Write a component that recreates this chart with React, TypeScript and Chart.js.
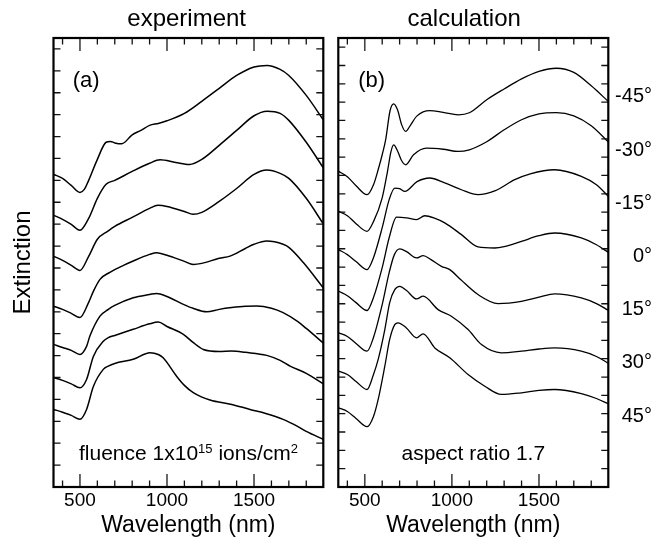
import { useEffect, useRef } from "react"
import { Chart, registerables } from "chart.js"

Chart.register(...registerables)

const FONT = "'Liberation Sans', Arial, Helvetica, sans-serif"

// axis ticks (wavelength in nm, extinction in arbitrary offset units)
const xMajorTicks = [500, 1000, 1500]
const xMinorTicks = [400, 600, 700, 800, 900, 1100, 1200, 1300, 1400, 1600, 1700, 1800]
const expYTicks = [0, 1, 2, 3, 4, 5, 6, 7, 8, 9, 10, 11, 12, 13, 14, 15, 16, 17, 18, 19]
const calcYTicks = [0, 1, 2, 3, 4, 5, 6, 7, 8, 9, 10, 11, 12, 13, 14, 15, 16, 17, 18, 19, 20, 21, 22, 23]
const angleLabels = ["-45°", "-30°", "-15°", "0°", "15°", "30°", "45°"]

// (a) experiment, [wavelength, extinction]
const expM45 = [[350, 13.27], [400, 13.09], [450, 12.77], [500, 12.45], [525, 12.59], [550, 13.0], [600, 13.96], [650, 14.74], [675, 14.78], [700, 14.71], [740, 14.67], [800, 15.08], [850, 15.28], [900, 15.51], [950, 15.6], [1000, 15.72], [1100, 16.06], [1200, 16.61], [1300, 17.2], [1400, 17.79], [1500, 18.18], [1575, 18.25], [1650, 18.07], [1700, 17.79], [1800, 16.88], [1900, 15.74]]
const expM30 = [[350, 11.4], [400, 11.22], [450, 10.99], [500, 10.72], [550, 11.26], [600, 12.18], [650, 12.82], [700, 13.0], [800, 13.41], [900, 13.78], [960, 13.94], [1050, 13.82], [1130, 13.73], [1200, 13.96], [1300, 14.6], [1400, 15.28], [1500, 15.95], [1575, 16.16], [1650, 16.06], [1700, 15.74], [1800, 14.74], [1900, 13.55]]
const expM15 = [[350, 9.53], [400, 9.35], [450, 9.12], [500, 8.89], [550, 9.53], [600, 10.31], [660, 10.68], [700, 10.9], [800, 11.31], [900, 11.72], [948, 11.86], [1000, 11.81], [1100, 11.58], [1150, 11.45], [1200, 11.54], [1300, 12.04], [1400, 12.63], [1500, 13.27], [1573, 13.47], [1650, 13.32], [1700, 13.09], [1800, 12.18], [1900, 10.99]]
const exp0 = [[350, 7.25], [400, 7.11], [450, 6.93], [500, 6.74], [550, 7.43], [577, 7.93], [615, 8.48], [672, 8.8], [750, 9.12], [806, 9.32], [900, 9.62], [940, 9.7], [1000, 9.58], [1100, 9.3], [1151, 9.16], [1200, 9.21], [1300, 9.44], [1362, 9.54], [1450, 9.89], [1500, 10.08], [1573, 10.23], [1667, 10.08], [1700, 9.94], [1782, 9.26], [1900, 8.07]]
const expP15 = [[350, 5.51], [400, 5.37], [450, 5.24], [500, 5.05], [538, 5.42], [557, 5.89], [615, 6.8], [663, 7.11], [700, 7.29], [806, 7.64], [900, 7.79], [940, 7.84], [1000, 7.7], [1094, 7.34], [1150, 7.16], [1228, 7.0], [1300, 7.11], [1372, 7.19], [1450, 7.25], [1515, 7.26], [1600, 7.16], [1667, 6.96], [1750, 6.56], [1800, 6.24], [1900, 5.56]]
const expP30 = [[350, 4.0], [400, 3.87], [450, 3.71], [500, 3.53], [538, 3.91], [577, 4.96], [634, 5.65], [663, 5.82], [700, 5.92], [806, 6.2], [900, 6.45], [950, 6.53], [1000, 6.33], [1094, 5.97], [1150, 5.6], [1209, 5.28], [1300, 5.19], [1372, 5.21], [1450, 5.15], [1573, 5.01], [1650, 4.78], [1707, 4.52], [1800, 4.19], [1900, 3.7]]
const expP45 = [[350, 2.54], [400, 2.41], [450, 2.27], [500, 2.09], [538, 2.54], [577, 3.59], [634, 4.37], [663, 4.52], [700, 4.64], [806, 4.83], [902, 5.13], [950, 5.05], [978, 4.9], [1055, 4.06], [1100, 3.64], [1151, 3.31], [1247, 2.97], [1372, 2.77], [1477, 2.54], [1567, 2.36], [1667, 2.09], [1750, 1.77], [1800, 1.54], [1900, 1.17]]

// (b) calculation, aspect ratio 1.7
const calcM45 = [[350, 16.22], [400, 15.93], [450, 15.44], [513, 14.95], [550, 15.49], [580, 16.42], [600, 17.13], [620, 17.95], [645, 19.53], [666, 19.91], [688, 19.58], [712, 18.76], [735, 18.4], [760, 18.71], [800, 19.25], [873, 19.54], [950, 19.44], [1036, 19.31], [1100, 19.42], [1200, 20.13], [1300, 20.72], [1400, 21.27], [1500, 21.68], [1600, 21.85], [1700, 21.62], [1800, 20.89], [1900, 20.02]]
const calcM30 = [[350, 14.04], [400, 13.8], [450, 13.37], [513, 12.95], [550, 13.48], [600, 14.78], [630, 16.2], [650, 17.29], [666, 17.67], [690, 17.29], [712, 16.8], [735, 16.58], [780, 17.13], [854, 17.49], [950, 17.43], [1036, 17.31], [1100, 17.4], [1200, 17.84], [1300, 18.49], [1400, 19.04], [1500, 19.36], [1600, 19.43], [1700, 19.25], [1800, 18.71], [1900, 17.81]]
const calcM15 = [[350, 11.95], [400, 11.68], [450, 11.3], [513, 10.86], [550, 11.51], [600, 13.15], [640, 14.68], [672, 15.31], [700, 15.28], [730, 15.13], [800, 15.66], [873, 15.86], [959, 15.59], [1055, 15.22], [1150, 14.95], [1250, 15.17], [1361, 15.77], [1450, 16.09], [1590, 16.31], [1743, 15.95], [1830, 15.49], [1900, 14.84]]
const calc0 = [[350, 9.68], [400, 9.44], [450, 9.06], [513, 8.63], [550, 9.34], [600, 10.97], [640, 12.6], [682, 13.73], [740, 13.69], [797, 13.59], [844, 13.8], [900, 13.67], [959, 13.41], [1055, 12.77], [1150, 12.1], [1246, 12.04], [1300, 12.11], [1399, 12.4], [1500, 12.71], [1590, 12.86], [1743, 12.59], [1830, 12.22], [1900, 11.79]]
const calcP15 = [[350, 7.41], [400, 7.21], [450, 6.83], [513, 6.41], [550, 7.16], [600, 8.95], [640, 10.7], [670, 11.68], [701, 11.99], [740, 11.84], [797, 11.5], [835, 11.62], [880, 11.41], [940, 11.04], [988, 10.86], [1050, 10.32], [1150, 9.5], [1265, 9.01], [1399, 9.13], [1500, 9.36], [1590, 9.54], [1743, 9.32], [1830, 9.01], [1900, 8.63]]
const calcP30 = [[350, 5.32], [400, 5.14], [450, 4.76], [513, 4.32], [550, 5.14], [577, 5.96], [615, 7.59], [643, 9.06], [672, 9.77], [701, 9.95], [740, 9.72], [797, 9.26], [835, 9.41], [921, 8.68], [997, 8.32], [1093, 7.59], [1170, 6.77], [1284, 6.32], [1399, 6.41], [1500, 6.53], [1590, 6.59], [1743, 6.41], [1830, 6.12], [1900, 5.74]]
const calcP45 = [[350, 3.32], [400, 3.12], [450, 2.74], [513, 2.29], [550, 2.85], [577, 3.78], [615, 5.59], [643, 7.05], [672, 7.86], [691, 7.96], [739, 7.68], [797, 7.14], [835, 7.36], [902, 6.59], [988, 6.05], [1093, 5.14], [1189, 4.5], [1284, 4.05], [1399, 4.14], [1500, 4.27], [1590, 4.32], [1743, 4.1], [1830, 3.83], [1900, 3.53]]

// box with inward ticks on all four sides
const framePlugin = {
  id: "frame",
  afterDraw(chart: any, _args: any, opts: any) {
    const { ctx, chartArea: a, scales } = chart
    const x = scales.x
    const y = scales.y
    ctx.save()
    ctx.strokeStyle = "#111"
    ctx.lineWidth = 1.3
    ctx.beginPath()
    for (const t of y.ticks) {
      const py = y.getPixelForValue(t.value)
      ctx.moveTo(a.left, py)
      ctx.lineTo(a.left + 7, py)
      ctx.moveTo(a.right, py)
      ctx.lineTo(a.right - 7, py)
    }
    for (const v of opts.minor || []) {
      const px = x.getPixelForValue(v)
      ctx.moveTo(px, a.top)
      ctx.lineTo(px, a.top + 6.5)
      ctx.moveTo(px, a.bottom)
      ctx.lineTo(px, a.bottom - 6.5)
    }
    ctx.stroke()
    ctx.lineWidth = 1.6
    ctx.strokeStyle = "#444"
    ctx.beginPath()
    for (const t of x.ticks) {
      const px = x.getPixelForValue(t.value)
      ctx.moveTo(px, a.top)
      ctx.lineTo(px, a.top + 13)
      ctx.moveTo(px, a.bottom)
      ctx.lineTo(px, a.bottom - 13)
    }
    ctx.stroke()
    ctx.lineWidth = 2.2
    ctx.strokeStyle = "#000"
    ctx.strokeRect(a.left, a.top, a.right - a.left, a.bottom - a.top)
    ctx.restore()
  },
}

interface PanelProps {
  series: number[][][]
  yTicks: number[]
  yMax: number
  yTitle?: string
  left: number
  width: number
  axisWidth: number
  padRight: number
  lineWidth: number
}

function Panel({ series, yTicks, yMax, yTitle, left, width, axisWidth, padRight, lineWidth }: PanelProps) {
  const canvasRef = useRef<HTMLCanvasElement>(null)

  useEffect(() => {
    if (!canvasRef.current) return
    const chart = new Chart(canvasRef.current, {
      type: "line",
      data: {
        datasets: series.map((d) => ({
          data: d as any,
          borderColor: "#000",
          borderWidth: lineWidth,
          pointRadius: 0,
          cubicInterpolationMode: "monotone" as const,
          fill: false,
        })),
      },
      options: {
        animation: false,
        responsive: false,
        events: [],
        layout: { padding: { left: 0, right: padRight, top: 38, bottom: 0 } },
        plugins: {
          legend: { display: false },
          tooltip: { enabled: false },
          // @ts-ignore custom plugin options
          frame: { minor: xMinorTicks },
        },
        scales: {
          x: {
            type: "linear",
            min: 348,
            max: 1898,
            grid: { display: false, drawTicks: false },
            border: { display: false },
            afterBuildTicks: (axis: any) => {
              axis.ticks = xMajorTicks.map((v) => ({ value: v }))
            },
            afterFit: (axis: any) => {
              axis.height = 59
            },
            ticks: {
              color: "#000",
              font: { family: FONT, size: 19 },
              padding: 2,
              maxRotation: 0,
              autoSkip: false,
              callback: (v: any) => String(v),
            },
            title: {
              display: true,
              text: "Wavelength (nm)",
              color: "#000",
              font: { family: FONT, size: 23 },
              padding: { top: 0, bottom: 7 },
            },
          },
          y: {
            type: "linear",
            min: -1,
            max: yMax,
            grid: { display: false, drawTicks: false },
            border: { display: false },
            afterBuildTicks: (axis: any) => {
              axis.ticks = yTicks.map((v) => ({ value: v }))
            },
            afterFit: (axis: any) => {
              axis.width = axisWidth
            },
            ticks: { display: false },
            title: {
              display: !!yTitle,
              text: yTitle || "",
              color: "#000",
              font: { family: FONT, size: 24 },
              padding: { top: 9, bottom: 0 },
            },
          },
        },
      },
      plugins: [framePlugin],
    })
    return () => chart.destroy()
  }, [])

  return <canvas ref={canvasRef} width={width} height={546} style={{ position: "absolute", left, top: 0 }} />
}

const text: React.CSSProperties = {
  position: "absolute",
  fontFamily: FONT,
  color: "#000",
  lineHeight: 1,
  whiteSpace: "nowrap",
}

const sup: React.CSSProperties = {
  fontSize: "0.62em",
  position: "relative",
  top: "-0.55em",
  verticalAlign: "baseline",
}

export default function App() {
  return (
    <div style={{ position: "absolute", left: 0, top: 0, width: 669, height: 546, background: "#fff", overflow: "hidden" }}>
      <Panel
        series={[expM45, expM30, expM15, exp0, expP15, expP30, expP45]}
        yTicks={expYTicks}
        yMax={19.5}
        yTitle="Extinction"
        left={0}
        width={330}
        axisWidth={53.5}
        padRight={6.7}
        lineWidth={1.5}
      />
      <Panel
        series={[calcM45, calcM30, calcM15, calc0, calcP15, calcP30, calcP45]}
        yTicks={calcYTicks}
        yMax={23.5}
        left={330}
        width={339}
        axisWidth={8.3}
        padRight={60.7}
        lineWidth={1.3}
      />
      <div style={{ ...text, left: 86.7, width: 200, top: 6.4, fontSize: 24, textAlign: "center" }}>experiment</div>
      <div style={{ ...text, left: 364.2, width: 200, top: 6.4, fontSize: 24, textAlign: "center" }}>calculation</div>
      <div style={{ ...text, left: 72.7, top: 68.5, fontSize: 22 }}>(a)</div>
      <div style={{ ...text, left: 358.3, top: 68.5, fontSize: 22 }}>(b)</div>
      <div style={{ ...text, left: 53.5, width: 270, top: 442.2, fontSize: 21, textAlign: "center" }}>
        fluence 1x10<span style={sup}>15</span> ions/cm<span style={sup}>2</span>
      </div>
      <div style={{ ...text, left: 338.3, width: 270, top: 441.5, fontSize: 21, textAlign: "center" }}>aspect ratio 1.7</div>
      {angleLabels.map((label, i) => (
        <div key={label} style={{ ...text, left: 562, width: 90, top: 85.3 + i * 53.2, fontSize: 20, textAlign: "right" }}>
          {label}
        </div>
      ))}
    </div>
  )
}
